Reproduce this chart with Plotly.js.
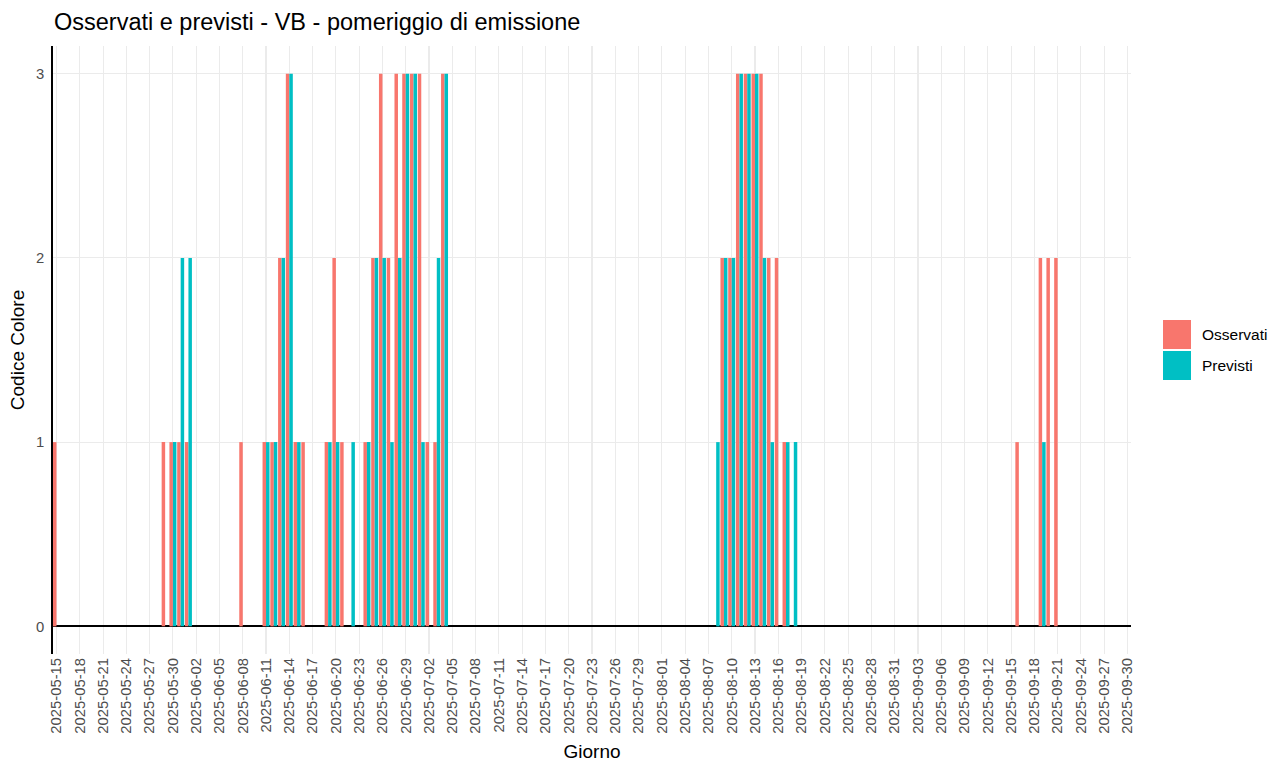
<!DOCTYPE html>
<html>
<head>
<meta charset="utf-8">
<script src="https://cdn.plot.ly/plotly-3.0.1.min.js"></script>
<style>html,body{margin:0;padding:0;background:#fff;}#chart{width:1271px;height:763px;}</style>
</head>
<body>
<div id="chart"></div>
<script>
// Days with at least one non-zero value (all other days are 0 for both series)
const giorni = ['2025-05-15','2025-05-29','2025-05-30','2025-05-31','2025-06-01','2025-06-08','2025-06-11','2025-06-12','2025-06-13','2025-06-14','2025-06-15','2025-06-16','2025-06-19','2025-06-20','2025-06-21','2025-06-22','2025-06-24','2025-06-25','2025-06-26','2025-06-27','2025-06-28','2025-06-29','2025-06-30','2025-07-01','2025-07-02','2025-07-03','2025-07-04','2025-08-08','2025-08-09','2025-08-10','2025-08-11','2025-08-12','2025-08-13','2025-08-14','2025-08-15','2025-08-16','2025-08-17','2025-08-18','2025-09-16','2025-09-19','2025-09-20','2025-09-21'];
const osservati = [1,1,1,1,1,1,1,1,2,3,1,1,1,2,1,0,1,2,3,2,3,3,3,3,1,1,3,0,2,2,3,3,3,3,2,2,1,0,1,2,2,2];
const previsti  = [0,0,1,2,2,0,1,1,2,3,1,0,1,1,0,1,1,2,2,1,2,3,3,1,0,2,3,1,2,2,3,3,3,2,1,0,1,1,0,1,0,0];
const serieNomi = ['Osservati','Previsti'];
const serieColori = ['#F8766D','#00BFC4'];
const periodo = ['2025-05-15','2025-09-30'];
const yTicks = [0,1,2,3];

const W = 1271, H = 763;
const M = {l:53, r:140, t:46, b:109};
const pw = W - M.l - M.r, ph = H - M.t - M.b;
const px = p => (p - M.l) / pw;
const py = p => (H - M.b - p) / ph;

const dayMs = 86400000;
const t0 = new Date(periodo[0] + 'T00:00:00Z').getTime() - 0.45 * dayMs;
const t1 = new Date(periodo[1] + 'T00:00:00Z').getTime() + 0.45 * dayMs;
const iso = t => new Date(t).toISOString().replace('T',' ').replace('Z','');

const traces = [osservati, previsti].map((vals, i) => ({
  type: 'bar', x: giorni, y: vals, name: serieNomi[i],
  marker: {color: serieColori[i], line: {width: 0}},
  showlegend: false, hoverinfo: 'x+y+name'
}));

const shapes = [], annotations = [];
serieNomi.forEach((n, i) => {
  const top = 320 + i * 31;
  shapes.push({type:'rect', xref:'paper', yref:'paper',
    x0: px(1163), x1: px(1191), y0: py(top + 29), y1: py(top),
    fillcolor: serieColori[i], line:{width:0}});
  annotations.push({xref:'paper', yref:'paper', x: px(1200), y: py(top + 14.5),
    xanchor:'left', yanchor:'middle', showarrow:false, text: n,
    font:{family:'Liberation Sans, Arial, sans-serif', size:15.5, color:'#000'}});
});

const layout = {
  width: W, height: H,
  margin: M,
  paper_bgcolor: '#fff', plot_bgcolor: '#fff',
  barmode: 'group', bargap: 0.1, bargroupgap: 0,
  font: {family: 'Liberation Sans, Arial, sans-serif', color: '#000'},
  title: {text: 'Osservati e previsti - VB - pomeriggio di emissione',
    x: 54 / W, xref: 'container', xanchor: 'left',
    y: 1 - 22 / H, yref: 'container', yanchor: 'middle',
    font: {size: 23.5, color: '#000'}},
  xaxis: {
    type: 'date', range: [iso(t0), iso(t1)],
    tick0: periodo[0], dtick: 3 * dayMs, tickformat: '%Y-%m-%d',
    tickangle: -90, ticks: '', showline: false, zeroline: false,
    showgrid: true, gridcolor: '#EBEBEB', gridwidth: 1.1,
    tickfont: {size: 14.8, color: '#4D4D4D'},
    title: {text: 'Giorno', font: {size: 19, color: '#000'}, standoff: 12},
    automargin: false, fixedrange: true
  },
  yaxis: {
    range: [-0.15, 3.15], tickvals: yTicks, ticktext: yTicks.map(String),
    ticks: '', showline: true, linecolor: '#000', linewidth: 1.8,
    zeroline: true, zerolinecolor: '#000', zerolinewidth: 1.8,
    showgrid: true, gridcolor: '#EBEBEB', gridwidth: 1.1,
    tickfont: {size: 14.8, color: '#4D4D4D'}, ticklabelstandoff: 4,
    title: {text: 'Codice Colore', font: {size: 19, color: '#000'}, standoff: 6},
    automargin: false, fixedrange: true
  },
  shapes: shapes,
  annotations: annotations,
  showlegend: false
};

Plotly.newPlot('chart', traces, layout, {displayModeBar: false, staticPlot: true});
</script>
</body>
</html>
